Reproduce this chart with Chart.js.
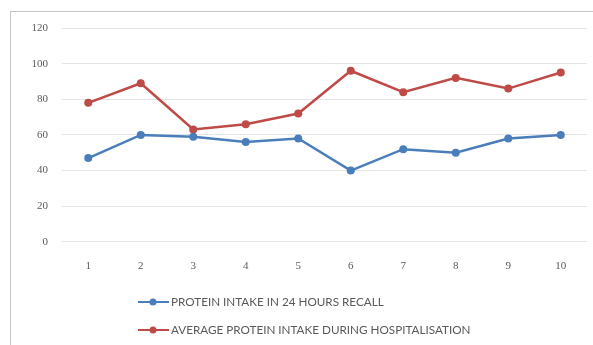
<!DOCTYPE html>
<html>
<head>
<meta charset="utf-8">
<script src="https://cdn.jsdelivr.net/npm/chart.js@4"></script>
<style>
  html, body { margin: 0; padding: 0; background: #fff; overflow: hidden; }
  #wrap { position: relative; width: 593px; height: 345px; }
  #frame { position: absolute; left: 10px; top: 11px; width: 640px; height: 400px; border: 1px solid #c6c6c6; box-sizing: border-box; }
  #chart { position: absolute; left: 0; top: 0; }
</style>
</head>
<body>
<div id="wrap">
  <div id="frame"></div>
  <canvas id="chart" width="593" height="345"></canvas>
</div>
<script>
// dados
const categorias = ['1', '2', '3', '4', '5', '6', '7', '8', '9', '10'];
const recall24h = [47, 60, 59, 56, 58, 40, 52, 50, 58, 60];
const mediaHospital = [78, 89, 63, 66, 72, 96, 84, 92, 86, 95];
const nomesSeries = ['PROTEIN INTAKE IN 24 HOURS RECALL', 'AVERAGE PROTEIN INTAKE DURING HOSPITALISATION'];
const coresSeries = ['#4a7ebb', '#be4b48'];

// legenda desenhada em coluna, como no original
const legendaColuna = {
    id: 'legendaColuna',
    afterDraw(chart) {
        const ctx = chart.ctx;
        ctx.save();
        chart.data.datasets.forEach((ds, i) => {
            const y = 302 + i * 28;
            ctx.strokeStyle = ds.borderColor;
            ctx.lineWidth = 2;
            ctx.beginPath();
            ctx.moveTo(138, y);
            ctx.lineTo(169, y);
            ctx.stroke();
            ctx.fillStyle = ds.borderColor;
            ctx.beginPath();
            ctx.arc(153, y, 3.5, 0, Math.PI * 2);
            ctx.fill();
            ctx.fillStyle = '#5a5a5a';
            ctx.font = '11.7px Lato';
            ctx.textBaseline = 'middle';
            ctx.fillText(ds.label, 171, y + 0.5);
        });
        ctx.restore();
    }
};

new Chart(document.getElementById('chart'), {
    type: 'line',
    data: {
        labels: categorias,
        datasets: [
            {
                label: nomesSeries[0],
                data: recall24h,
                borderColor: coresSeries[0],
                backgroundColor: coresSeries[0],
                borderWidth: 2.5,
                pointRadius: 4,
                pointBorderWidth: 0,
                tension: 0
            },
            {
                label: nomesSeries[1],
                data: mediaHospital,
                borderColor: coresSeries[1],
                backgroundColor: coresSeries[1],
                borderWidth: 2.5,
                pointRadius: 4,
                pointBorderWidth: 0,
                tension: 0
            }
        ]
    },
    options: {
        responsive: false,
        animation: false,
        layout: { padding: { left: 0, right: 6, top: 28, bottom: 54 } },
        plugins: {
            legend: { display: false },
            tooltip: { enabled: false }
        },
        scales: {
            x: {
                offset: true,
                grid: { display: false, drawTicks: false },
                border: { display: false },
                ticks: {
                    padding: 18,
                    color: '#5a5a5a',
                    font: { family: 'Liberation Serif', size: 11 }
                }
            },
            y: {
                min: 0,
                max: 120,
                afterFit(scale) { scale.width = 62; },
                grid: { color: '#e4e4e4', lineWidth: 1, drawTicks: false },
                border: { display: false },
                ticks: {
                    stepSize: 20,
                    padding: 14,
                    color: '#5a5a5a',
                    font: { family: 'Liberation Serif', size: 11 }
                }
            }
        }
    },
    plugins: [legendaColuna]
});
</script>
</body>
</html>
